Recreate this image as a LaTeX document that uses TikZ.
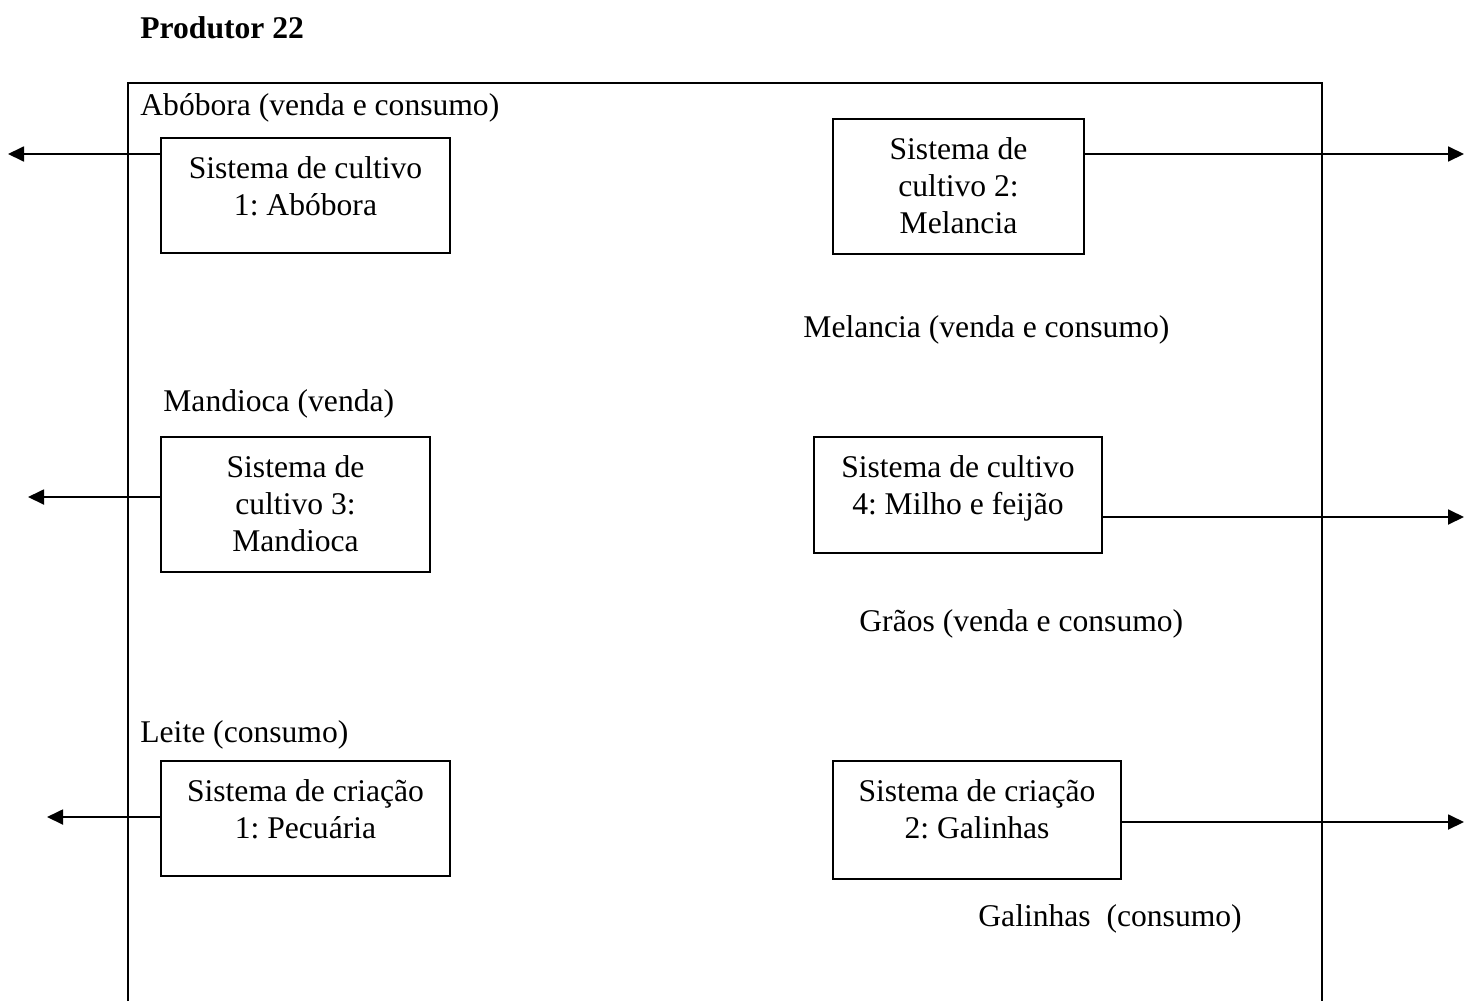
\documentclass[tikz,border=0pt]{standalone}
\usepackage{fontspec}
\setmainfont{Liberation Serif}
\usetikzlibrary{arrows.meta}
\frenchspacing
\tikzset{
  box/.style={draw, rectangle, line width=0.8pt, inner sep=0pt, outer sep=0pt},
  boxtext/.style={anchor=north, inner sep=0pt, align=center, font=\fontsize{15.8}{18.6}\selectfont\frenchspacing},
  lbl/.style={anchor=base west, inner sep=0pt, font=\fontsize{15.8}{18.6}\selectfont\frenchspacing},
  flow/.style={line width=0.9pt, -{Triangle[length=8pt,width=7.5pt]}},
  frame/.style={line width=1.2pt}
}
\begin{document}
\begin{tikzpicture}[x=0.5pt,y=-0.5pt]
\useasboundingbox (0,0) rectangle (1465,1001);
% title
\node[lbl, font=\fontsize{15.8}{18.6}\selectfont\bfseries] (title) at (140,38) {Produtor 22};
% frame (open at the bottom)
\draw[frame] (128,1001) -- (128,83) -- (1322,83) -- (1322,1001);
% boxes
\node[box, minimum width=144.5pt, minimum height=57.5pt] (b1) at (305.5,195.5) {};
\node[box, minimum width=125.5pt, minimum height=67.5pt] (b2) at (958.5,186.5) {};
\node[box, minimum width=134.5pt, minimum height=67.5pt] (b3) at (295.5,504.5) {};
\node[box, minimum width=144pt, minimum height=58pt] (b4) at (958,495) {};
\node[box, minimum width=144.5pt, minimum height=57.5pt] (b5) at (305.5,818.5) {};
\node[box, minimum width=144pt, minimum height=59pt] (b6) at (977,820) {};
% box texts
\node[boxtext] (t1) at ([yshift=-7pt]b1.north) {\strut Sistema de cultivo\\1: Abóbora};
\node[boxtext] (t2) at ([yshift=-7pt]b2.north) {\strut Sistema de\\cultivo 2:\\Melancia};
\node[boxtext] (t3) at ([yshift=-7pt]b3.north) {\strut Sistema de\\cultivo 3:\\Mandioca};
\node[boxtext] (t4) at ([yshift=-7pt]b4.north) {\strut Sistema de cultivo\\4: Milho e feijão};
\node[boxtext] (t5) at ([yshift=-7pt]b5.north) {\strut Sistema de criação\\1: Pecuária};
\node[boxtext] (t6) at ([yshift=-7pt]b6.north) {\strut Sistema de criação\\2: Galinhas};
% labels
\node[lbl] (l1) at (140,115) {Abóbora (venda e consumo)};
\node[lbl] (l2) at (803,337) {Melancia (venda e consumo)};
\node[lbl] (l3) at (163,411) {Mandioca (venda)};
\node[lbl] (l4) at (859,631) {Grãos (venda e consumo)};
\node[lbl] (l5) at (140,742) {Leite (consumo)};
\node[lbl] (l6) at (978,926) {Galinhas\ \ (consumo)};
% arrow ends
\coordinate (e1) at (8,154);
\coordinate (e2) at (1464,154);
\coordinate (e3) at (28,497);
\coordinate (e4) at (1464,517);
\coordinate (e5) at (47,817);
\coordinate (e6) at (1464,822);
% connectors
\draw[flow] (b1.west |- e1) -- (e1);
\draw[flow] (b2.east |- e2) -- (e2);
\draw[flow] (b3.west |- e3) -- (e3);
\draw[flow] (b4.east |- e4) -- (e4);
\draw[flow] (b5.west |- e5) -- (e5);
\draw[flow] (b6.east |- e6) -- (e6);
\end{tikzpicture}
\end{document}
